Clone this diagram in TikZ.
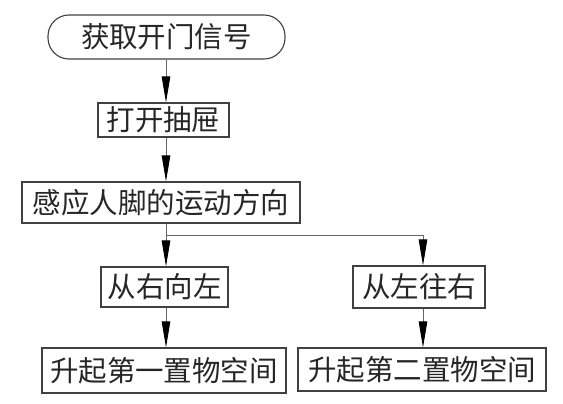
\documentclass[tikz,border=0pt]{standalone}
\usepackage{fontspec}
\newfontfamily\cjk{Noto Sans CJK SC}
\usetikzlibrary{arrows.meta}
\tikzset{
  boxstyle/.style={draw=black!75, line width=1.1pt, inner sep=0pt, font=\cjk\fontsize{28.5}{28.5}\selectfont, text=black!85},
  conn/.style={draw=black!60, line width=0.9pt},
  arr/.style={conn, -{Triangle[length=26pt,width=8.5pt,color=black,fill=black]}}
}
\begin{document}
\begin{tikzpicture}[x=1pt,y=-1pt]
\useasboundingbox (0,0) rectangle (563,404);
\node[boxstyle, rounded corners=21pt, minimum width=237pt, minimum height=44pt] (top) at (166.5,37) {获取开门信号};
\node[boxstyle, minimum width=131pt, minimum height=34pt] (b2) at (163.5,120) {打开抽屉};
\node[boxstyle, minimum width=278pt, minimum height=41pt] (b3) at (161,202.5) {感应人脚的运动方向};
\node[boxstyle, minimum width=127pt, minimum height=40pt] (l1) at (164.5,287) {从右向左};
\node[boxstyle, minimum width=132pt, minimum height=42pt] (r1) at (419,287) {从左往右};
\node[boxstyle, minimum width=244pt, minimum height=45pt] (l2) at (164,370.5) {升起第一置物空间};
\node[boxstyle, minimum width=248pt, minimum height=43pt] (r2) at (422,369.5) {升起第二置物空间};
\coordinate (j) at (166,235);
\coordinate (jr) at (423,235);
\draw[arr] (top.south -| j) -- (b2.north -| j);
\draw[arr] (b2.south -| j) -- (b3.north -| j);
\draw[conn] (b3.south -| j) -- (j) -- (jr);
\draw[arr] (j) -- (l1.north -| j);
\draw[arr] (jr) -- (r1.north -| jr);
\draw[arr] (l1.south -| j) -- (l2.north -| j);
\draw[arr] (r1.south -| jr) -- (r2.north -| jr);
\end{tikzpicture}
\end{document}
